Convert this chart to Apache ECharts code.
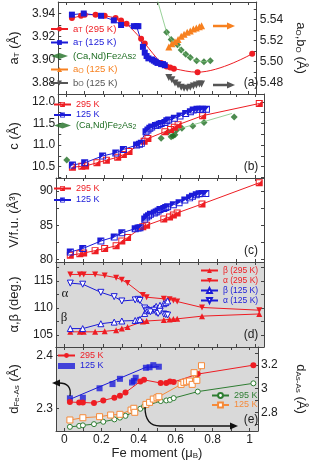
<!DOCTYPE html>
<html><head><meta charset="utf-8">
<script src="https://cdn.jsdelivr.net/npm/echarts@6/dist/echarts.min.js"></script>
<style>html,body{margin:0;padding:0;background:#fff}#c{width:315px;height:468px}</style>
</head><body><div id="c"></div>
<script>
// ---------- data ----------
const x295 = [0.03,0.08,0.10,0.16,0.21,0.27,0.30,0.33,0.41,0.43,0.52,0.55,0.57,0.59,0.72,1.02];
const x125 = [0.03,0.095,0.19,0.26,0.30,0.37,0.385,0.395,0.42,0.43,0.44,0.45,0.47,0.48,0.49,0.50,0.52,0.53,0.54,0.57,0.60,0.63,0.655,0.67,0.69,0.705,0.72,0.74];
const x125t = x125.slice(0,19);
// (a)
const aT295 = [3.936,3.938,3.939,3.939,3.938,3.936,3.934,3.931,3.918,3.914,3.897,3.894,3.893,3.892,3.889,3.905];
const aT125 = [3.939,3.940,3.938,3.934,3.930,3.929,3.929,3.929,3.911,3.906,3.903,3.901,3.900,3.899,3.898,3.897,3.896,3.896,3.895];
const candAx = [0.55,0.575,0.61,0.63,0.655,0.68,0.715,0.755,0.79];
const candA  = [5.528,5.521,5.516,5.511,5.507,5.504,5.501,5.500,5.501];
const candAlineX = [0.48,0.55,0.575,0.61,0.63,0.655,0.68,0.715,0.755,0.79];
const candAline  = [5.570,5.528,5.521,5.516,5.511,5.507,5.504,5.501,5.500,5.501];
const xO = [0.562,0.579,0.596,0.613,0.63,0.646,0.663,0.68,0.697,0.713,0.73,0.742];
const aO125 = [5.514,5.517,5.519,5.521,5.524,5.526,5.528,5.529,5.531,5.532,5.533,5.534];
const bO125 = [5.485,5.483,5.480,5.478,5.476,5.475,5.475,5.476,5.477,5.478,5.479,5.479];
// (b)
const c295 = [10.49,10.51,10.52,10.59,10.65,10.72,10.78,10.85,11.09,11.15,11.31,11.36,11.41,11.47,11.68,11.96];
const c125 = [10.54,10.59,10.75,10.82,10.90,11.00,11.02,11.04,11.31,11.35,11.39,11.42,11.45,11.46,11.48,11.50,11.52,11.56,11.58,11.62,11.67,11.73,11.77,11.81,11.825,11.83,11.83,11.83];
const candBx = [0.0,0.50,0.537,0.553,0.563,0.573,0.582,0.61,0.668,0.727,0.887];
const candB  = [10.655,11.16,11.30,11.19,11.21,11.24,11.35,11.39,11.44,11.52,11.65];
const candBtrendX = [0.52,0.875];
const candBtrend  = [11.28,11.73];
// (c)
const V295 = [80.62,80.85,80.95,81.3,81.6,82.0,82.7,83.2,84.8,85.0,85.9,86.2,86.5,86.8,88.1,91.2];
const V125 = [81.1,81.6,82.7,83.3,83.9,84.5,84.6,84.65,85.9,86.2,86.4,86.6,86.8,86.95,87.1,87.3,87.45,87.6,87.7,88.0,88.3,88.7,89.0,89.25,89.45,89.6,89.65,89.65];
// (d)
const alpha295 = [116.2,116.2,116.2,116.2,116.0,115.6,115.2,114.6,112.4,112.0,111.7,111.6,111.4,111.2,110.1,109.6];
const beta295  = [105.6,105.6,105.6,105.6,105.7,105.9,106.2,106.5,107.5,107.6,107.8,107.9,107.95,108.0,108.5,108.9];
const alpha125 = [114.6,114.4,112.9,112.1,111.3,111.5,111.6,111.4,110.0,109.6,109.5,109.3,109.6,109.2,109.0,109.4,108.9,108.8,108.7];
const beta125  = [106.2,106.2,107.1,107.4,107.6,107.7,107.8,107.9,109.0,109.5,109.8,109.6,110.0,110.3,110.0,110.5,110.8,111.0,111.3];
// (e)
const dFe295 = [2.312,2.311,2.311,2.310,2.315,2.320,2.324,2.330,2.351,2.354,2.348,2.348,2.351,2.350,2.365,2.382];
const dFe125x = [0.03,0.10,0.19,0.26,0.30,0.365,0.375,0.385,0.44,0.46,0.48,0.51];
const dFe125 = [2.319,2.320,2.338,2.346,2.356,2.349,2.352,2.358,2.377,2.378,2.382,2.379];
const fit125x = [0.03,0.44,0.51];
const fit125 = [2.317,2.378,2.379];
const dAs295 = [2.677,2.685,2.69,2.70,2.72,2.74,2.755,2.77,2.83,2.85,2.895,2.90,2.905,2.92,2.975,3.045];
const dAs125x = [0.03,0.10,0.19,0.25,0.30,0.36,0.375,0.38,0.44,0.46,0.48,0.50,0.51,0.63,0.645,0.66,0.675,0.69,0.70,0.715,0.74];
const dAs125 = [2.735,2.754,2.763,2.777,2.783,2.819,2.834,2.80,2.867,2.884,2.912,2.923,2.932,3.036,3.053,3.058,3.064,3.036,3.135,3.07,3.194];
// ticks
const xTicks = [0,0.1,0.2,0.3,0.4,0.5,0.6,0.7,0.8,0.9,1.0];
const xLabels = [0,0.2,0.4,0.6,0.8,1];
const aLTicks = [3.88,3.89,3.90,3.91,3.92,3.93,3.94];
const aLLabels = [3.88,3.90,3.92,3.94];
const aRTicks = [5.48,5.49,5.50,5.51,5.52,5.53,5.54,5.55];
const aRLabels = [5.48,5.50,5.52,5.54];
const bTicks = [10.25,10.5,10.75,11.0,11.25,11.5,11.75,12.0];
const bLabels = [10.5,11.0,11.5,12.0];
const cTicks = [80,82.5,85,87.5,90];
const cLabels = [80,85,90];
const dTicks = [105,107.5,110,112.5,115,117.5];
const dLabels = [105,110,115];
const eLTicks = [2.3,2.35,2.4];
const eLLabels = [2.3,2.4];
const eRTicks = [2.7,2.8,2.9,3.0,3.1,3.2,3.3];
const eRLabels = [2.8,3,3.2];

// ---------- style ----------
const RED='#ee1d23', BLUE='#1b1bd8', GREEN='#1f6e23', LGREEN='#7cc47c', ORANGE='#f7801f', GREY='#555555', EGREEN='#2e7d32', EORANGE='#f58a3a';
const FONT='Liberation Sans';
const AX='#444';
const TRI_DOWN='path://M0,0L10,0L5,9Z';
const FRAME='M0,0L10,0L10,1.4L0,1.4Z M0,8.6L10,8.6L10,10L0,10Z M0,1.4L1.4,1.4L1.4,8.6L0,8.6Z M8.6,1.4L10,1.4L10,8.6L8.6,8.6Z ';
const HALF_R='path://'+FRAME+'M8.6,1.4L8.6,8.6L1.4,8.6Z';
const HALF_L='path://'+FRAME+'M1.4,1.4L8.6,1.4L1.4,8.6Z';
const rich = {s:{fontSize:7, verticalAlign:'bottom', fontFamily:FONT, padding:[3,0,0,0]}};

const xMin=-0.045, xMax=1.045;
const grids = [
  {left:48, width:216, top:2, height:92},
  {left:48, width:216, top:94, height:84},
  {left:48, width:216, top:178, height:84},
  {left:48, width:216, top:262, height:85, show:true, backgroundColor:'#d9d9d9', borderWidth:0},
  {left:48, width:216, top:347, height:84, show:true, backgroundColor:'#d9d9d9', borderWidth:0}
];

function xAx(gi,pos,labels){
  const o={type:'value',gridIndex:gi,position:pos,min:xMin,max:xMax,
    axisLine:{show:true,onZero:false,lineStyle:{color:AX,width:1}},
    axisTick:{show:true,inside:true,length:3,customValues:xTicks,lineStyle:{color:AX}},
    axisLabel:{show:labels,customValues:xLabels,margin:3,fontSize:12,fontFamily:FONT,color:'#222',formatter:v=>String(+v.toFixed(1))},
    splitLine:{show:false}};
  if(labels){o.name='Fe moment (μ{s|B})';o.nameLocation='middle';o.nameGap=15;
    o.nameTextStyle={fontSize:13,fontFamily:FONT,color:'#222',rich:{s:{fontSize:8,fontFamily:FONT,verticalAlign:'bottom',padding:[4,0,0,0],color:'#222'}}};}
  return o;
}
function yAx(gi,pos,min,max,ticks,labels,fmt,name,rot){
  const o={type:'value',gridIndex:gi,position:pos,min:min,max:max,
    axisLine:{show:true,onZero:false,lineStyle:{color:AX,width:1}},
    axisTick:{show:true,inside:true,length:3,customValues:ticks,lineStyle:{color:AX}},
    axisLabel:{show:!!labels,customValues:labels||ticks,margin:3,fontSize:12,fontFamily:FONT,color:'#222',formatter:fmt},
    splitLine:{show:false}};
  if(name){o.name=name;o.nameLocation='middle';o.nameGap=rot<0?36:35;o.nameRotate=rot;
    o.nameTextStyle={fontSize:13,fontFamily:FONT,color:'#222',rich:{s:{fontSize:8,fontFamily:FONT,verticalAlign:'bottom',padding:[5,0,0,0],color:'#222'}}};}
  return o;
}
const f2=v=>v.toFixed(2), f1=v=>v.toFixed(1), f0=v=>String(Math.round(v)), fe=v=>String(+v.toFixed(1));

const xAxis=[], yAxis=[];
for(let g=0;g<5;g++){ xAxis.push(xAx(g,'bottom',g===4)); xAxis.push(xAx(g,'top',false)); }
yAxis.push(yAx(0,'left',3.87,3.95,aLTicks,aLLabels,f2,'a{s|T} (Å)',90));
yAxis.push(yAx(0,'right',5.4695,5.5565,aRTicks,aRLabels,f2,'a{s|O},b{s|O} (Å)',-90));
yAxis.push(yAx(1,'left',10.24,12.18,bTicks,bLabels,f1,'c (Å)',90));
yAxis.push(yAx(1,'right',10.24,12.18,bTicks,null,f1));
yAxis.push(yAx(2,'left',79.64,91.9,cTicks,cLabels,f0,'V/f.u. (Å³)',90));
yAxis.push(yAx(2,'right',79.64,91.9,cTicks,null,f0));
yAxis.push(yAx(3,'left',102.8,118.5,dTicks,dLabels,f0,'α,β (deg.)',90));
yAxis.push(yAx(3,'right',102.8,118.5,dTicks,null,f0));
yAxis.push(yAx(4,'left',2.2568,2.4165,eLTicks,eLLabels,f1,'d{s|Fe-As} (Å)',90));
yAxis.push(yAx(4,'right',2.642,3.352,eRTicks,eRLabels,fe,'d{s|As-As} (Å)',-90));

const zip=(xs,ys)=>xs.map((x,i)=>[x,ys[i]]);
function L(name,g,r,xs,ys,color,o){
  return Object.assign({type:'line',name:name,xAxisIndex:2*g,yAxisIndex:2*g+r,data:zip(xs,ys),
    symbolSize:6,color:color,itemStyle:{color:color},lineStyle:{color:color,width:1},clip:true},o||{});
}
const open=c=>({itemStyle:{color:'#fff',borderColor:c,borderWidth:1}});

const series=[
  // (a)
  L('aT295',0,0,x295,aT295,RED,{symbol:'circle',smooth:0.4}),
  L('aT125',0,0,x125t,aT125,BLUE,{symbol:'rect',symbolSize:6}),
  L('candALine',0,1,candAlineX,candAline,LGREEN,{showSymbol:false,lineStyle:{color:LGREEN,width:0.8}}),
  {type:'scatter',name:'canda',xAxisIndex:0,yAxisIndex:1,data:zip(candAx,candA),symbol:'diamond',symbolSize:7,itemStyle:{color:GREEN}},
  L('aO125',0,1,xO,aO125,ORANGE,{symbol:'triangle',symbolSize:7}),
  L('bO125',0,1,xO,bO125,GREY,{symbol:TRI_DOWN,symbolSize:7}),
  // (b)
  L('c295',1,0,x295,c295,RED,{symbol:HALF_R,symbolSize:7}),
  L('c125',1,0,x125,c125,BLUE,{symbol:HALF_L,symbolSize:7}),
  L('candBtrend',1,0,candBtrendX,candBtrend,LGREEN,{showSymbol:false,lineStyle:{color:LGREEN,width:0.8}}),
  {type:'scatter',name:'candb',xAxisIndex:2,yAxisIndex:2,data:zip(candBx,candB),symbol:'diamond',symbolSize:7,itemStyle:{color:GREEN}},
  // (c)
  L('v295',2,0,x295,V295,RED,{symbol:HALF_R,symbolSize:7}),
  L('v125',2,0,x125,V125,BLUE,{symbol:HALF_L,symbolSize:7}),
  // (d)
  L('b295',3,0,x295,beta295,RED,{symbol:'triangle',symbolSize:6}),
  L('a295',3,0,x295,alpha295,RED,{symbol:TRI_DOWN,symbolSize:6}),
  L('b125',3,0,x125t,beta125,BLUE,Object.assign({symbol:'triangle',symbolSize:6},open(BLUE))),
  L('a125',3,0,x125t,alpha125,BLUE,Object.assign({symbol:TRI_DOWN,symbolSize:6},open(BLUE))),
  // (e)
  L('f295',4,0,x295,dFe295,RED,{symbol:'circle',symbolSize:6}),
  L('f125fit',4,0,fit125x,fit125,BLUE,{showSymbol:false}),
  {type:'scatter',name:'f125',xAxisIndex:8,yAxisIndex:8,data:zip(dFe125x,dFe125),symbol:'rect',symbolSize:6,itemStyle:{color:BLUE}},
  L('s295',4,1,x295,dAs295,EGREEN,Object.assign({symbol:'circle',symbolSize:5},open(EGREEN))),
  L('s125',4,1,dAs125x,dAs125,EORANGE,Object.assign({symbol:'rect',symbolSize:6},open(EORANGE)))
];

const LBL={aT295:'a{s|T} (295 K)',aT125:'a{s|T} (125 K)',canda:'(Ca,Nd)Fe{s|2}As{s|2}',aO125:'a{s|O} (125 K)',bO125:'b{s|O} (125 K)',
  c295:'295 K',c125:'125 K',candb:'(Ca,Nd)Fe{s|2}As{s|2}',v295:'295 K',v125:'125 K',
  b295:'β (295 K)',a295:'α (295 K)',b125:'β (125 K)',a125:'α (125 K)',f295:'295 K',f125:'125 K',s295:'295 K',s125:'125 K'};
function leg(names,colors,left,top,gap,fs,iw){
  return {orient:'vertical',left:left,top:top,itemGap:gap,itemWidth:iw||17,itemHeight:6,selectedMode:false,padding:0,
    formatter:n=>LBL[n],textStyle:{fontSize:fs,fontFamily:FONT,rich:rich},
    data:names.map((n,i)=>({name:n,textStyle:{color:colors[i]}}))};
}
const legend=[
  leg(['aT295','aT125','canda','aO125','bO125'],[RED,BLUE,GREEN,ORANGE,GREY],50,24,3.5,9.5),
  leg(['c295','c125','candb'],[RED,BLUE,GREEN],53,100,1.5,9),
  leg(['v295','v125'],[RED,BLUE],53,184,2.5,9),
  leg(['b295','a295','b125','a125'],[RED,RED,BLUE,BLUE],200,266,1,8.5),
  leg(['f295','f125'],[RED,BLUE],57,351,1.5,9),
  leg(['s295','s125'],[EGREEN,EORANGE],211,391,0.5,9)
];

function txt(t,x,y,fs,fam){return {type:'text',x:x,y:y,z:100,style:{text:t,fill:'#222',font:fs+'px '+(fam||FONT),textAlign:'center',textVerticalAlign:'middle'}};}
function arrowH(line,head,color,w){return [
  {type:'line',z:100,shape:line,style:{stroke:color,lineWidth:w}},
  {type:'polygon',z:100,shape:{points:head},style:{fill:color}}];}
const graphic=[
  txt('(a)',251,83,12),txt('(b)',251,167,12),txt('(c)',251,251,12),txt('(d)',251,335,12),txt('(e)',251,420,12),
  txt('α',65,294,13,'Liberation Serif'),txt('β',64,318,13,'Liberation Serif'),
  ...arrowH({x1:213,y1:26,x2:228,y2:26},[[227,22.5],[235,26],[227,29.5]],ORANGE,2.5),
  ...arrowH({x1:213,y1:85,x2:228,y2:85},[[227,81.5],[235,85],[227,88.5]],GREY,2.5),
  {type:'bezierCurve',z:100,shape:{x1:70,y1:396,cpx1:72,cpy1:383,x2:59,y2:383},style:{stroke:'#111',lineWidth:1.3,fill:null}},
  {type:'polygon',z:100,shape:{points:[[60,379.5],[52,383],[60,386.5]]},style:{fill:'#111'}},
  {type:'bezierCurve',z:100,shape:{x1:145,y1:407,cpx1:145,cpy1:426,x2:160,y2:426},style:{stroke:'#111',lineWidth:1.3,fill:null}},
  {type:'line',z:100,shape:{x1:160,y1:426,x2:231,y2:426},style:{stroke:'#111',lineWidth:1.3}},
  {type:'polygon',z:100,shape:{points:[[230,422.5],[238,426],[230,429.5]]},style:{fill:'#111'}}
];

const chart=echarts.init(document.getElementById('c'),null,{renderer:'canvas'});
chart.setOption({animation:false,backgroundColor:'#fff',grid:grids,xAxis:xAxis,yAxis:yAxis,series:series,legend:legend,graphic:graphic});
</script></body></html>
